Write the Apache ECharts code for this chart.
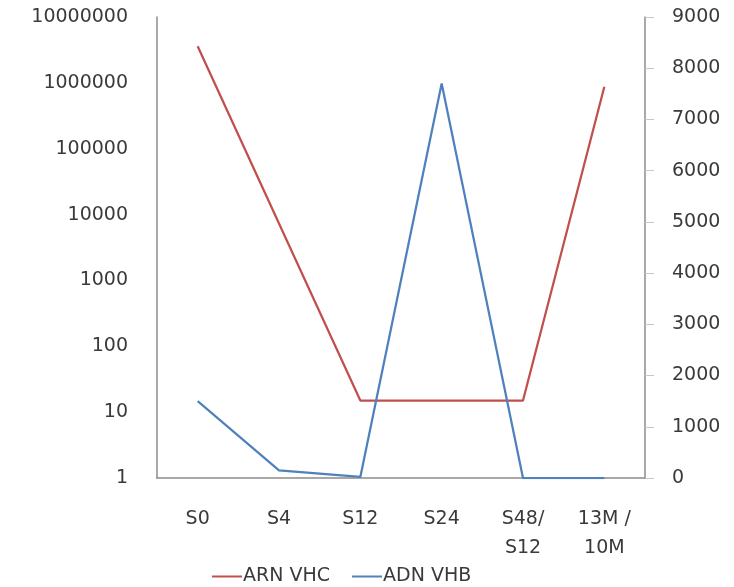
<!DOCTYPE html>
<html>
<head>
<meta charset="utf-8">
<script src="https://cdn.jsdelivr.net/npm/echarts@6/dist/echarts.min.js"></script>
<style>html,body{margin:0;padding:0;background:#fff;}#c{width:734px;height:587px;}</style>
</head>
<body>
<div id="c"></div>
<script>
const categories = ['S0', 'S4', 'S12', 'S24', 'S48/\nS12', '13M /\n10M'];
const arnVhc = [3600000, 7300, 15, 15, 15, 870000];
const adnVhb = [1500, 150, 20, 7700, 0, 0];
const leftTicks = [1, 10, 100, 1000, 10000, 100000, 1000000, 10000000];
const seriesNames = ['ARN VHC', 'ADN VHB'];

const chart = echarts.init(document.getElementById('c'));
const font = 'DejaVu Sans';
const txt = '#3a3a3a';
chart.setOption({
  animation: false,
  backgroundColor: '#ffffff',
  textStyle: { fontFamily: font },
  grid: { left: 157, right: 89, top: 17, bottom: 109 },
  legend: {
    data: seriesNames,
    bottom: -4,
    left: 207,
    itemWidth: 30,
    itemHeight: 2,
    itemGap: 22,
    icon: 'rect',
    textStyle: { fontFamily: font, fontSize: 19, color: txt, padding: [0, 0, 0, -4] }
  },
  xAxis: {
    type: 'category',
    data: categories,
    boundaryGap: true,
    axisLine: { lineStyle: { color: '#8c8c8c', width: 1.5 } },
    axisTick: { show: false },
    axisLabel: { fontFamily: font, fontSize: 19, color: txt, margin: 27, lineHeight: 29, interval: 0 }
  },
  yAxis: [
    {
      type: 'log',
      logBase: 10,
      min: 1,
      max: 10000000,
      position: 'left',
      splitLine: { show: false },
      axisLine: { show: true, lineStyle: { color: '#8c8c8c', width: 1.5 } },
      axisTick: { show: false },
      axisLabel: {
        fontFamily: font, fontSize: 19, color: txt, margin: 29,
        formatter: function (v) {
          const r = leftTicks.find(t => Math.abs(Math.log10(t) - Math.log10(v)) < 1e-6);
          return r !== undefined ? String(r) : '';
        }
      }
    },
    {
      type: 'value',
      min: 0,
      max: 9000,
      interval: 1000,
      position: 'right',
      splitLine: { show: false },
      axisLine: { show: true, lineStyle: { color: '#8c8c8c', width: 1.5 } },
      axisTick: { show: true, length: 9, lineStyle: { color: '#c8c8c8' } },
      axisLabel: { fontFamily: font, fontSize: 19, color: txt, margin: 27, formatter: function (v) { return String(v); } }
    }
  ],
  series: [
    {
      name: seriesNames[0],
      type: 'line',
      yAxisIndex: 0,
      data: arnVhc,
      symbol: 'none',
      color: '#C0504D',
      lineStyle: { color: '#C0504D', width: 2.25 }
    },
    {
      name: seriesNames[1],
      type: 'line',
      yAxisIndex: 1,
      data: adnVhb,
      symbol: 'none',
      color: '#4F81BD',
      lineStyle: { color: '#4F81BD', width: 2.25 }
    }
  ]
});
</script>
</body>
</html>
